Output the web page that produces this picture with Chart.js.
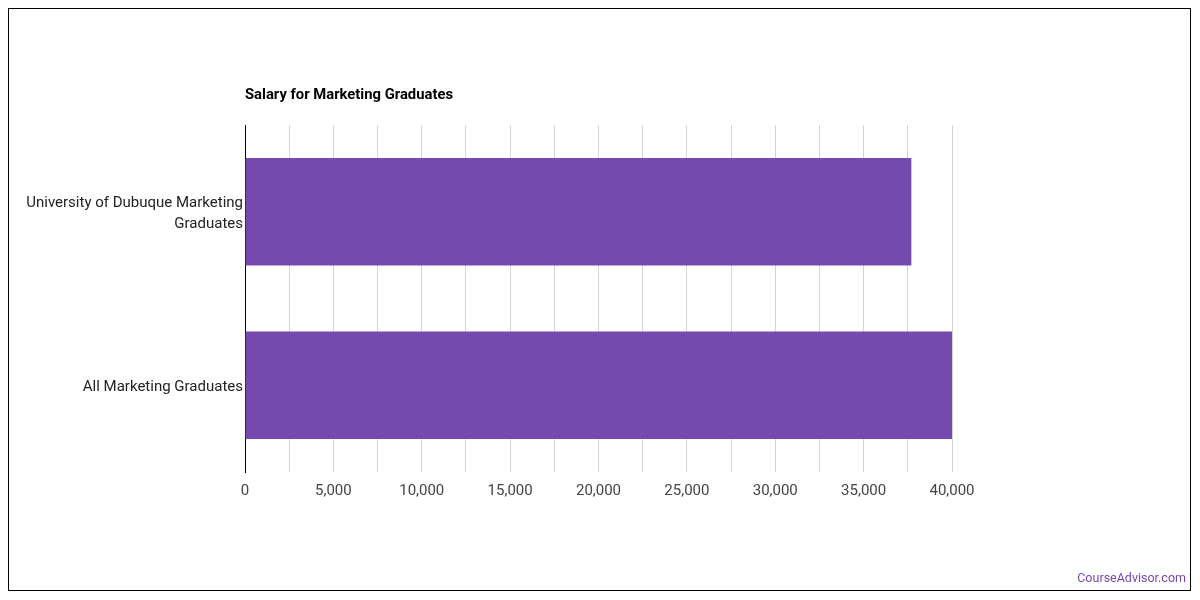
<!DOCTYPE html>
<html>
<head>
<meta charset="utf-8">
<script src="https://cdn.jsdelivr.net/npm/chart.js@4"></script>
<style>
  body { margin: 0; background: #fff; font-family: Roboto, sans-serif; }
  #box { position: absolute; left: 8px; top: 8px; width: 1181px; height: 581px; border: 1px solid #000; }
  #credit { position: absolute; right: 14px; top: 570px; font-size: 12.5px; color: #7447ad; }
</style>
</head>
<body>
<div id="box"><canvas id="salaryChart" width="1181" height="581"></canvas></div>
<div id="credit">CourseAdvisor.com</div>
<script>
  // Chart data
  const categories = [['University of Dubuque Marketing', 'Graduates'], 'All Marketing Graduates'];
  const salaries = [37700, 40000];
  const chartTitle = 'Salary for Marketing Graduates';

  // Title drawn aligned to the plot's left edge
  const leftTitle = {
    id: 'leftTitle',
    afterDraw(chart) {
      const ctx = chart.ctx;
      ctx.save();
      ctx.font = 'bold 14.8px Roboto';
      ctx.fillStyle = '#000';
      ctx.textBaseline = 'middle';
      ctx.fillText(chartTitle, chart.chartArea.left, 86);
      ctx.restore();
    }
  };

  new Chart(document.getElementById('salaryChart'), {
    type: 'bar',
    data: {
      labels: categories,
      datasets: [{
        data: salaries,
        backgroundColor: '#7549ad',
        categoryPercentage: 1,
        barPercentage: 0.62
      }]
    },
    options: {
      indexAxis: 'y',
      responsive: false,
      animation: false,
      layout: { padding: { top: 116, right: 238, left: 0, bottom: 0 } },
      scales: {
        x: {
          min: 0,
          max: 40000,
          afterFit: s => { s.height = 118; },
          grid: { color: '#d4d4d4', drawTicks: false },
          border: { display: false },
          ticks: {
            stepSize: 2500,
            padding: 10,
            autoSkip: false,
            maxRotation: 0,
            minRotation: 0,
            color: '#444',
            font: { family: 'Roboto', size: 15 },
            callback: v => v % 5000 === 0 ? v.toLocaleString('en-US') : ''
          }
        },
        y: {
          afterFit: s => { s.width = 236; },
          grid: { display: false, drawTicks: false },
          border: { display: true, color: '#000' },
          ticks: {
            padding: 2,
            labelOffset: 2,
            color: '#222',
            font: { family: 'Roboto', size: 15, lineHeight: 1.36 }
          }
        }
      },
      plugins: {
        legend: { display: false },
        tooltip: { enabled: false }
      }
    },
    plugins: [leftTitle]
  });
</script>
</body>
</html>
